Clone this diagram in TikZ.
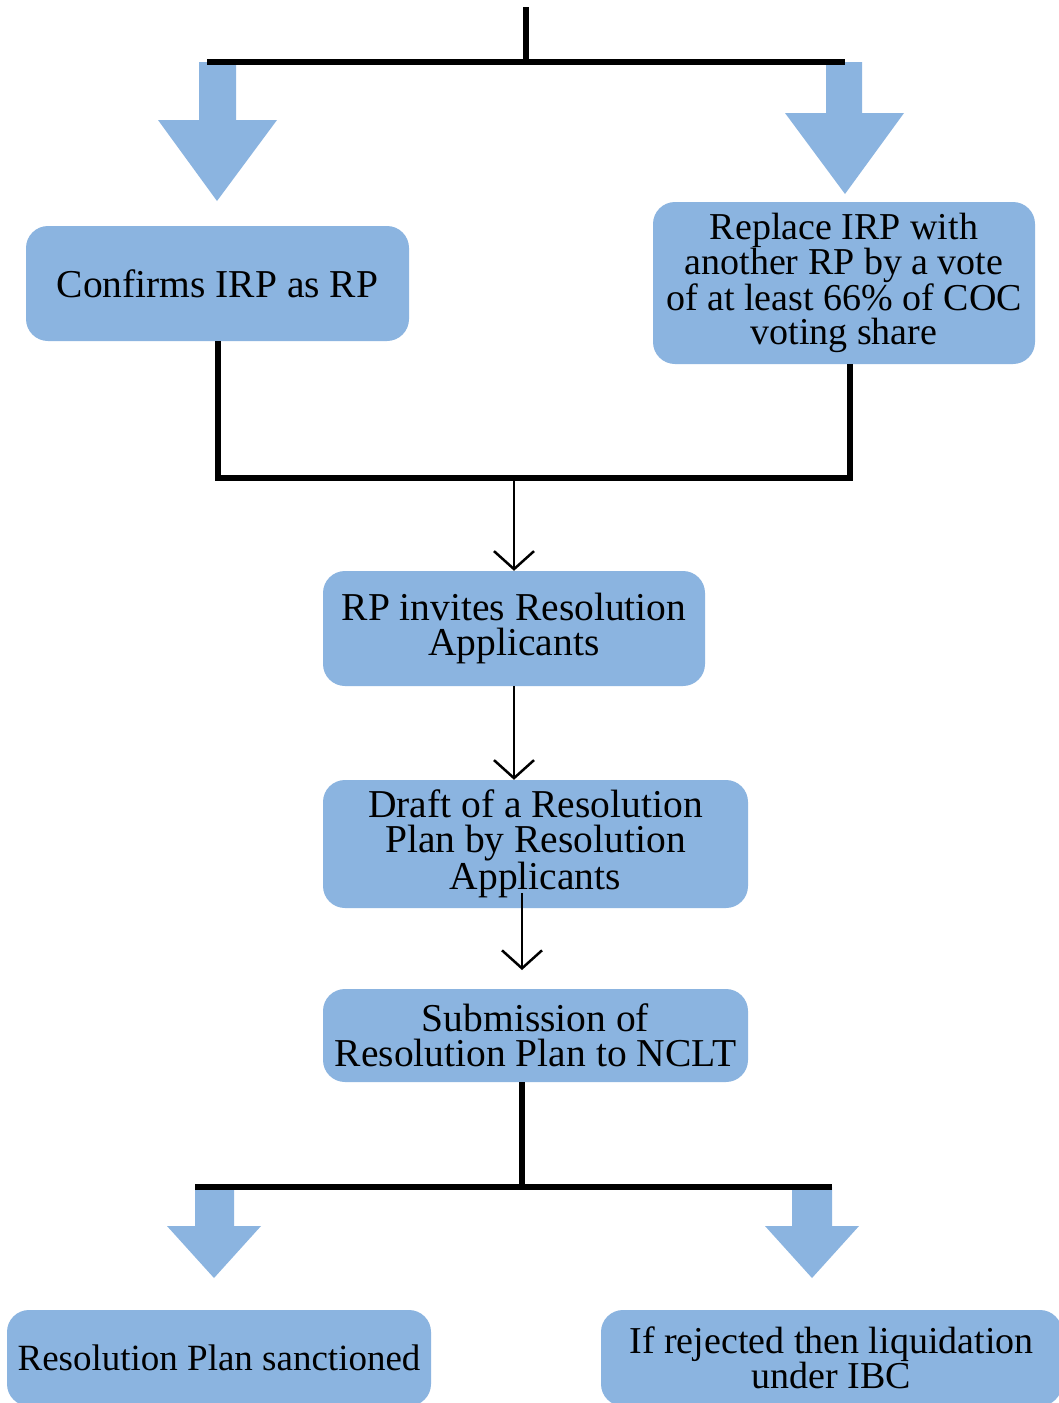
\documentclass[tikz,border=0pt]{standalone}
\usepackage{fontspec}
\setmainfont{Liberation Serif}
\usetikzlibrary{arrows.meta}
\definecolor{boxblue}{RGB}{139,180,224}
\begin{document}
\begin{tikzpicture}[x=1pt,y=-1pt,
  box/.style={fill=boxblue, rounded corners=22pt, align=center, inner sep=0pt, font=\fontsize{38}{34.5}\selectfont},
  midbox/.style={box, font=\fontsize{39.5}{34.5}\selectfont},
  bar/.style={line width=6pt, line join=miter},
  flow/.style={line width=2.5pt, -{Straight Barb[length=18pt,width=40pt]}},
  blockarrow/.style={fill=boxblue}]
\useasboundingbox (0,0) rectangle (1059,1403);
\fill[white] (0,0) rectangle (1059,1403);

% boxes
\node[midbox, minimum width=383pt, minimum height=115pt] (b1) at (217.5,283.5) {Confirms IRP as RP};
\node[box, minimum width=382pt, minimum height=162pt] (b2) at (844,283) {Replace IRP with\\another RP by a vote\\of at least 66\% of COC\\voting share};
\node[midbox, minimum width=382pt, minimum height=115pt] (b3) at (514,628.5) {RP invites Resolution\\Applicants};
\node[midbox, minimum width=425pt, minimum height=128pt] (b4) at (535.5,844) {Draft of a Resolution\\Plan by Resolution\\Applicants};
\node[midbox, minimum width=425pt, minimum height=93pt] (b5) at (535.5,1035.5) {Submission of\\Resolution Plan to NCLT};
\node[box, minimum width=424pt, minimum height=96pt, font=\fontsize{37}{32}\selectfont] (b6) at (219,1358) {Resolution Plan sanctioned};
\node[box, minimum width=461pt, minimum height=96pt, font=\fontsize{38}{32}\selectfont] (b7) at (831.5,1358) {If rejected then liquidation\\under IBC};

% coordinates
\coordinate (top) at (526,7);
\coordinate (tbM) at (526,62);
\coordinate (tbL) at (207,62);
\coordinate (tbR) at (845,62);
\coordinate (mL) at (218,478);
\coordinate (mR) at (850,478);
\coordinate (b2foot) at (850,364);
\coordinate (mM) at (514,478);
\coordinate (a3s) at (522,893);
\coordinate (a3e) at (522,970);
\coordinate (b5foot) at (522,1082);
\coordinate (bbM) at (522,1187);
\coordinate (bbL) at (195,1187);
\coordinate (bbR) at (832,1187);

% block arrows
\fill[blockarrow] (199,62) -- (199,120) -- (158,120) -- (217,201) -- (277,120) -- (236,120) -- (236,62) -- cycle;
\fill[blockarrow] (826,62) -- (826,113) -- (785,113) -- (845,194) -- (904,113) -- (862,113) -- (862,62) -- cycle;
\fill[blockarrow] (195,1187) -- (195,1226) -- (167,1226) -- (214,1278) -- (261,1226) -- (234,1226) -- (234,1187) -- cycle;
\fill[blockarrow] (792,1187) -- (792,1226) -- (765,1226) -- (812,1278) -- (859,1226) -- (832,1226) -- (832,1187) -- cycle;

% thick connectors
\draw[bar] (top) -- (tbM);
\draw[bar] (tbL) -- (tbR);
\draw[bar] (b1.south -| mL) -- (mL) -- (mR) -- (b2foot);
\draw[bar] (b5foot) -- (bbM);
\draw[bar] (bbL) -- (bbR);

% thin arrows
\draw[flow] (mM) -- (b3.north);
\draw[flow] (b3.south) -- (b3.south |- b4.north);
\draw[flow] (a3s) -- (a3e);
\end{tikzpicture}
\end{document}
